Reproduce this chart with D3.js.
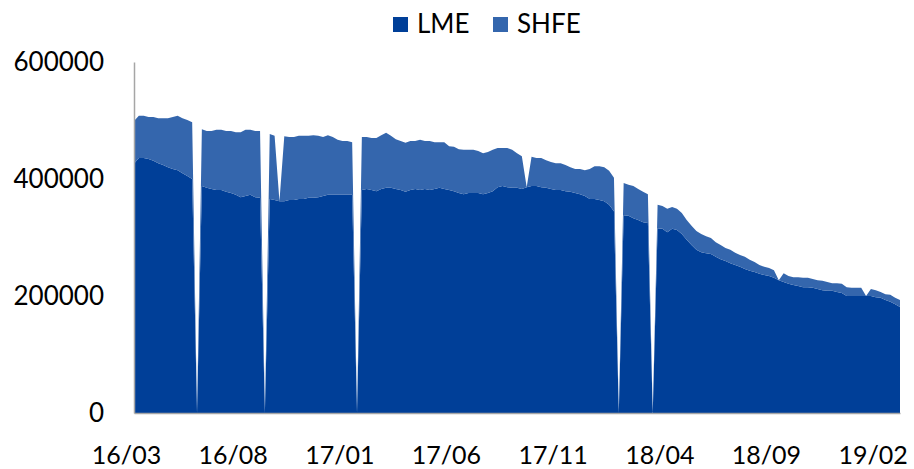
<!DOCTYPE html>
<html>
<head>
<meta charset="utf-8">
<script src="https://cdn.jsdelivr.net/npm/d3@7"></script>
<style>
  body { margin: 0; background: #fff; }
  svg { display: block; }
  text { font-family: Lato, "Open Sans", sans-serif; fill: #000; }
</style>
</head>
<body>
<svg id="chart" width="914" height="469"></svg>
<script>
// Weekly copper inventories (tonnes), LME and SHFE warehouses, stacked.
const seriesNames = ["LME", "SHFE"];
const seriesColors = ["#003f98", "#3466ad"];

// One observation per week, Fridays from 2016-03-04 to 2019-03-15.
const weeks = d3.timeFriday.range(new Date(2016, 2, 4), new Date(2019, 2, 16));

const lme = [
  426e3, 436e3, 436e3, 434e3, 431e3, 427e3, 424e3, 420e3, 417e3, 415e3,
  410e3, 405e3, 400e3, 0, 388e3, 385e3, 383e3, 381e3, 381e3, 378e3,
  376e3, 373e3, 369e3, 371e3, 373e3, 369e3, 368e3, 0, 366e3, 364e3,
  362e3, 362e3, 364e3, 364e3, 366e3, 366e3, 368e3, 368e3, 369e3, 371e3,
  373e3, 373e3, 373e3, 373e3, 373e3, 373e3, 0, 381e3, 383e3, 381e3,
  379e3, 383e3, 385e3, 385e3, 383e3, 381e3, 378e3, 381e3, 383e3, 381e3,
  383e3, 381e3, 383e3, 385e3, 383e3, 381e3, 379e3, 376e3, 374e3, 376e3,
  376e3, 376e3, 374e3, 376e3, 379e3, 386e3, 388e3, 386e3, 385e3, 385e3,
  383e3, 386e3, 388e3, 388e3, 386e3, 385e3, 383e3, 381e3, 381e3, 379e3,
  378e3, 376e3, 374e3, 371e3, 366e3, 366e3, 364e3, 362e3, 356e3, 345e3,
  0, 338e3, 337e3, 333e3, 330e3, 326e3, 325e3, 0, 316e3, 315e3,
  309e3, 315e3, 313e3, 306e3, 296e3, 287e3, 279e3, 275e3, 273e3, 272e3,
  267e3, 263e3, 260e3, 256e3, 253e3, 250e3, 246e3, 243e3, 241e3, 238e3,
  236e3, 234e3, 231e3, 227e3, 224e3, 221e3, 219e3, 217e3, 215e3, 215e3,
  214e3, 212e3, 210e3, 209e3, 209e3, 207e3, 205e3, 200e3, 200e3, 200e3,
  200e3, 200e3, 200e3, 198e3, 197e3, 193e3, 190e3, 186e3, 181e3
];

const shfe = [
  73e3, 72e3, 72e3, 72e3, 75e3, 77e3, 80e3, 84e3, 89e3, 93e3,
  94e3, 96e3, 97e3, 0, 97e3, 97e3, 99e3, 103e3, 103e3, 104e3,
  106e3, 107e3, 111e3, 113e3, 111e3, 113e3, 114e3, 0, 111e3, 110e3,
  0, 111e3, 108e3, 108e3, 108e3, 108e3, 106e3, 107e3, 105e3, 101e3,
  102e3, 99e3, 94e3, 92e3, 92e3, 90e3, 0, 91e3, 89e3, 89e3,
  91e3, 92e3, 94e3, 89e3, 85e3, 84e3, 84e3, 84e3, 82e3, 86e3,
  82e3, 84e3, 80e3, 78e3, 80e3, 75e3, 76e3, 75e3, 76e3, 74e3,
  74e3, 72e3, 70e3, 70e3, 71e3, 67e3, 65e3, 67e3, 65e3, 59e3,
  56e3, 0, 50e3, 48e3, 50e3, 47e3, 46e3, 46e3, 46e3, 45e3,
  42e3, 41e3, 43e3, 44e3, 51e3, 56e3, 58e3, 58e3, 58e3, 57e3,
  0, 55e3, 53e3, 55e3, 53e3, 52e3, 49e3, 0, 40e3, 39e3,
  40e3, 37e3, 36e3, 36e3, 34e3, 33e3, 32e3, 31e3, 29e3, 27e3,
  25e3, 24e3, 22e3, 23e3, 21e3, 20e3, 21e3, 19e3, 17e3, 15e3,
  14e3, 14e3, 13e3, 0, 15e3, 13e3, 13e3, 15e3, 16e3, 16e3,
  15e3, 15e3, 16e3, 15e3, 13e3, 15e3, 16e3, 15e3, 14e3, 14e3,
  14e3, 0, 12e3, 12e3, 10e3, 10e3, 12e3, 11e3, 12e3
];

const yTicks = [0, 200000, 400000, 600000];
const xTickLabels = ["16/03", "16/08", "17/01", "17/06", "17/11", "18/04", "18/09", "19/02"];
const xTickEvery = 22; // a label every 22 weeks

const svg = d3.select("#chart");
const plot = { left: 134, right: 900, top: 62, bottom: 413 };

const rows = weeks.map((d, i) => ({ date: d, LME: lme[i], SHFE: shfe[i] }));

const x = d3.scalePoint()
  .domain(d3.range(rows.length))
  .range([plot.left, plot.right]);

const y = d3.scaleLinear()
  .domain([0, 600000])
  .range([plot.bottom, plot.top]);

const color = d3.scaleOrdinal().domain(seriesNames).range(seriesColors);

const stacked = d3.stack().keys(seriesNames)(rows);

const area = d3.area()
  .x((d, i) => x(i))
  .y0(d => y(d[0]))
  .y1(d => y(d[1]));

svg.append("g")
  .selectAll("path")
  .data(stacked)
  .join("path")
  .attr("fill", d => color(d.key))
  .attr("d", area);

// Value axis
const yAxis = svg.append("g")
  .attr("transform", `translate(${plot.left},0)`)
  .call(d3.axisLeft(y).tickValues(yTicks).tickSize(0).tickSizeOuter(0)
    .tickPadding(30).tickFormat(d3.format("d")));
yAxis.selectAll("text").attr("font-size", 26).attr("dy", "0.32em");

// Time axis
const tickIdx = xTickLabels.map((_, k) => k * xTickEvery);
const xAxis = svg.append("g")
  .attr("transform", `translate(0,${plot.bottom})`)
  .call(d3.axisBottom(x).tickValues(tickIdx).tickSize(0).tickSizeOuter(0)
    .tickPadding(33).tickFormat((d, k) => xTickLabels[k]));
xAxis.selectAll("text").attr("font-size", 25).attr("dx", -8);

svg.selectAll(".domain").attr("stroke", "#a6a6a6").attr("stroke-width", 1.5);
svg.selectAll(".tick line").remove();

// Legend
const legend = svg.append("g").attr("class", "legend");
const legendX = [393, 493];
seriesNames.forEach((name, k) => {
  const g = legend.append("g").attr("transform", `translate(${legendX[k]},17)`);
  g.append("rect").attr("width", 15).attr("height", 15).attr("fill", seriesColors[k]);
  g.append("text").attr("x", 24).attr("y", 16).attr("font-size", 26).text(name);
});
</script>
</body>
</html>
